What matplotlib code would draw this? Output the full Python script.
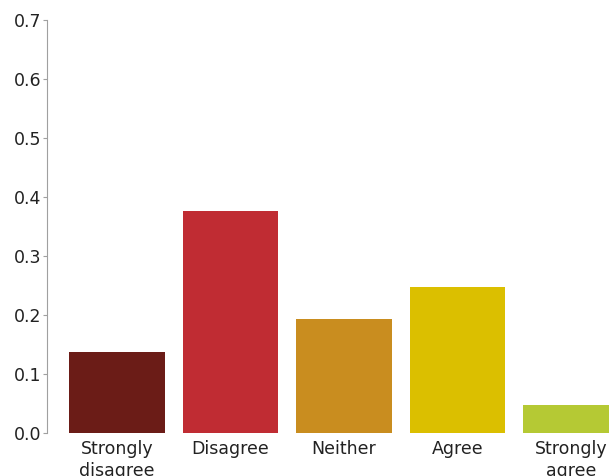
import matplotlib
matplotlib.use("Agg")
import matplotlib.pyplot as plt
import numpy as np

categories = ["Strongly\ndisagree", "Disagree", "Neither", "Agree", "Strongly\nagree"]
values = [0.137, 0.376, 0.193, 0.248, 0.047]
colors = ["#6b1c17", "#c02c33", "#c98d1f", "#dbbf00", "#b5c934"]
yticks = [0.0, 0.1, 0.2, 0.3, 0.4, 0.5, 0.6, 0.7]

fig = plt.figure(figsize=(6.09, 4.76), dpi=100)
ax = fig.add_axes([47 / 609, 1 - 433 / 476, 1 - 47 / 609, (433 - 20) / 476])

x = np.arange(len(categories))
ax.bar(x, values, width=0.84, color=colors)

ax.set_xlim(-0.617, 4.335)
ax.set_ylim(0, 0.7)
ax.set_yticks(yticks)
ax.set_yticklabels([f"{v:.1f}" for v in yticks])
ax.set_xticks(x)
ax.set_xticklabels(categories, linespacing=1.3)

for s in ["top", "right", "bottom"]:
    ax.spines[s].set_visible(False)
ax.spines["left"].set_color("#a0a0a0")
ax.tick_params(axis="y", length=3, color="#a0a0a0", labelsize=12.5, labelcolor="#222222", pad=1)
ax.tick_params(axis="x", length=0, labelsize=12.5, labelcolor="#222222", pad=5)

fig.savefig("out.png", dpi=100)
